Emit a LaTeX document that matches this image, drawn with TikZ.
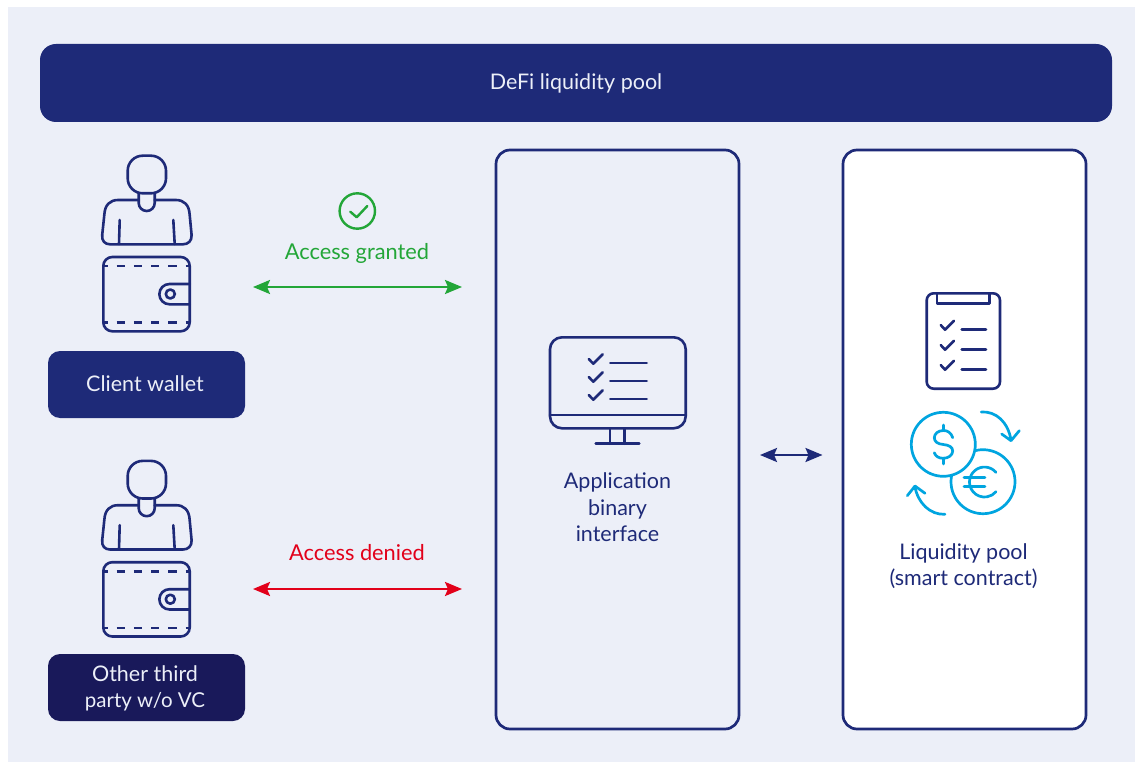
\documentclass[tikz,border=0pt]{standalone}
\usepackage{fontspec}
\setmainfont{Lato}
\usetikzlibrary{arrows.meta}
\definecolor{navy}{HTML}{1E2A78}
\definecolor{darknavy}{HTML}{19195A}
\definecolor{bgpale}{HTML}{ECEFF8}
\definecolor{okgreen}{HTML}{23A638}
\definecolor{nored}{HTML}{E2001A}
\definecolor{coinblue}{HTML}{00A5E0}
\tikzset{
  icon/.style={draw=navy,line width=2.6pt,line cap=round,line join=round},
  coin/.style={draw=coinblue,line width=2.7pt,line cap=round,line join=round},
  bar/.style={fill=navy,text=bgpale,rounded corners=16pt,minimum width=1072pt,minimum height=78pt,font=\fontsize{21.5}{26}\selectfont},
  tag/.style={rounded corners=12pt,minimum width=197pt,minimum height=67pt,inner sep=0pt},
  tagtext/.style={text=bgpale,inner sep=0pt,align=center,font=\fontsize{21.5}{26}\selectfont},
  panel/.style={draw=navy,line width=2.7pt,rounded corners=14pt,minimum width=243pt,minimum height=579pt,inner sep=0pt},
  caption/.style={align=center,inner sep=0pt,text=navy,font=\fontsize{21.5}{26.5}\selectfont},
  status/.style={inner sep=0pt,font=\fontsize{21.8}{26}\selectfont},
  biarrow/.style={line width=2.4pt,{Stealth[length=17pt,width=14pt,inset=3pt]}-{Stealth[length=17pt,width=14pt,inset=3pt]}},
  personwallet/.pic={
    % head
    \draw[icon,rounded corners=15pt] (127.7,155.7) rectangle (166,193.3);
    % neck
    \draw[icon] (138.7,193) -- (138.7,203) arc[start angle=180,end angle=360,radius=8pt] -- (154.7,193);
    % body
    \draw[icon] (138.7,200) -- (118,200) .. controls (110,200) and (105,205) .. (104.4,214) -- (102.2,235) .. controls (101.6,241) and (105,244.3) .. (110,244.3) -- (183,244.3) .. controls (188,244.3) and (192,241) .. (191.6,235) -- (189.6,214) .. controls (189,205) and (184,200) .. (176,200) -- (154.7,200);
    \draw[icon] (119.7,220) -- (119,244);
    \draw[icon] (173.3,220) -- (174.7,244);
    % wallet
    \draw[icon,rounded corners=9pt] (103.3,257) rectangle (189.7,331.3);
    \draw[icon,line cap=butt,dash pattern=on 8.3pt off 8.9pt,dash phase=3.8pt] (103.3,266) -- (189.7,266);
    \draw[icon,line cap=butt,dash pattern=on 8.3pt off 8.9pt,dash phase=3.8pt] (103.3,322.7) -- (189.7,322.7);
    \draw[icon] (189.7,284) -- (169.5,284) arc[start angle=90,end angle=270,radius=10.15pt] -- (189.7,304.3);
    \draw[icon] (170.3,294) circle[radius=4.5];
  },
  checkrow/.pic={
    \draw[icon] (0,0) -- (4.6,4.7) -- (14,-4.7);
    \draw[icon] (21.6,4) -- (58,4);
  },
  smallcheck/.pic={
    \draw[icon] (0,0) -- (4.3,4.7) -- (13.3,-4.3);
    \draw[icon] (21,4.3) -- (45.3,4.3);
  },
}
\begin{document}
\begin{tikzpicture}[x=1pt,y=-1pt]
\useasboundingbox (0,0) rectangle (1135,762);
\fill[bgpale] (8,7) rectangle (1135,762);

\node[bar] (title) at (576,83) {\raisebox{-4pt}{DeFi liquidity pool}};

\pic (first) at (0,0) {personwallet};
\pic (second) at (0,305.2) {personwallet};

\node[tag,fill=navy] (client) at (146.5,384.5) {};
\node[tag,fill=darknavy] (other) at (146.5,687.5) {};
\node[tagtext] (clienttext) at (145,383.5) {Client wallet};
\node[tagtext] (othertext) at (145,688.5) {Other third\\\fontsize{20.5}{26}\selectfont party w/o VC};

\node[panel] (abi) at (617.5,439.5) {};
\node[panel,fill=white] (lp) at (964.5,439.5) {};

% monitor
\draw[icon,rounded corners=12pt] (550,337.3) rectangle (685.7,428.3);
\draw[icon] (550,415) -- (685.7,415);
\draw[icon] (610,428.3) -- (610,443.7);
\draw[icon] (624.7,428.3) -- (624.7,443.7);
\draw[icon] (595.7,443.7) -- (639.3,443.7);
\pic at (588.7,359) {checkrow};
\pic at (588.7,377) {checkrow};
\pic at (588.7,395) {checkrow};

\node[caption] (abitext) at (617.5,507.5) {Application\\binary\\interface};

% clipboard
\draw[icon,rounded corners=7pt] (926.7,293.3) rectangle (1000,388.7);
\draw[icon] (937,293.3) -- (937,303.3) -- (989.3,303.3) -- (989.3,293.3);
\pic at (940.7,325) {smallcheck};
\pic at (940.7,345) {smallcheck};
\pic at (940.7,365) {smallcheck};

% coins
\draw[coin] (983,481.7) circle[radius=32];
\draw[coin,fill=white] (943.3,444.3) circle[radius=32];
\draw[coin] (952.7,437.7) .. controls (951,432.5) and (947.5,430.5) .. (943.3,430.5) .. controls (938,430.5) and (934.3,434) .. (934.3,437.7) .. controls (934.3,442) and (938,444) .. (943.3,444.5) .. controls (948.7,445) and (952.7,447) .. (952.7,451) .. controls (952.7,455) and (948.5,458.3) .. (943.3,458.3) .. controls (939,458.3) and (935.5,456.5) .. (934.3,452.7);
\draw[coin] (943.3,425) -- (943.3,430.5);
\draw[coin] (943.3,458.3) -- (943.3,464);
\draw[coin] (996,472.4) arc[start angle=40,end angle=320,radius=15pt];
\draw[coin] (964,477.3) -- (985,477.3);
\draw[coin] (964,486.7) -- (985,486.7);
\draw[coin] (981.3,412) .. controls (996,411) and (1008,422) .. (1011,440);
\draw[coin] (1001.7,434) -- (1011,440.7) -- (1019.3,430.7);
\draw[coin] (945,514.3) .. controls (930,515) and (918,503) .. (915,487);
\draw[coin] (907.3,495.7) -- (915,486) -- (925,493.3);

\node[caption] (lptext) at (963.5,566) {Liquidity pool\\(smart contract)};

% access granted
\draw[draw=okgreen,line width=2.4pt] (357.3,211) circle[radius=17.7];
\draw[draw=okgreen,line width=2.4pt,line cap=round,line join=round] (350.3,211.7) -- (356.7,217.3) -- (367.3,206);
\node[status,text=okgreen] (granted) at (357,253) {Access granted};
\node[status,text=nored] (denied) at (357,553) {Access denied};

\coordinate (g1) at (253,287);
\coordinate (g2) at (462,287);
\coordinate (r1) at (253,589);
\coordinate (r2) at (462,589);
\coordinate (n1) at (760,455);
\coordinate (n2) at (822.5,455);
\draw[biarrow,draw=okgreen,fill=okgreen] (g1) -- (g2);
\draw[biarrow,draw=nored,fill=nored] (r1) -- (r2);
\draw[biarrow,draw=navy,fill=navy] (n1) -- (n2);
\end{tikzpicture}
\end{document}
